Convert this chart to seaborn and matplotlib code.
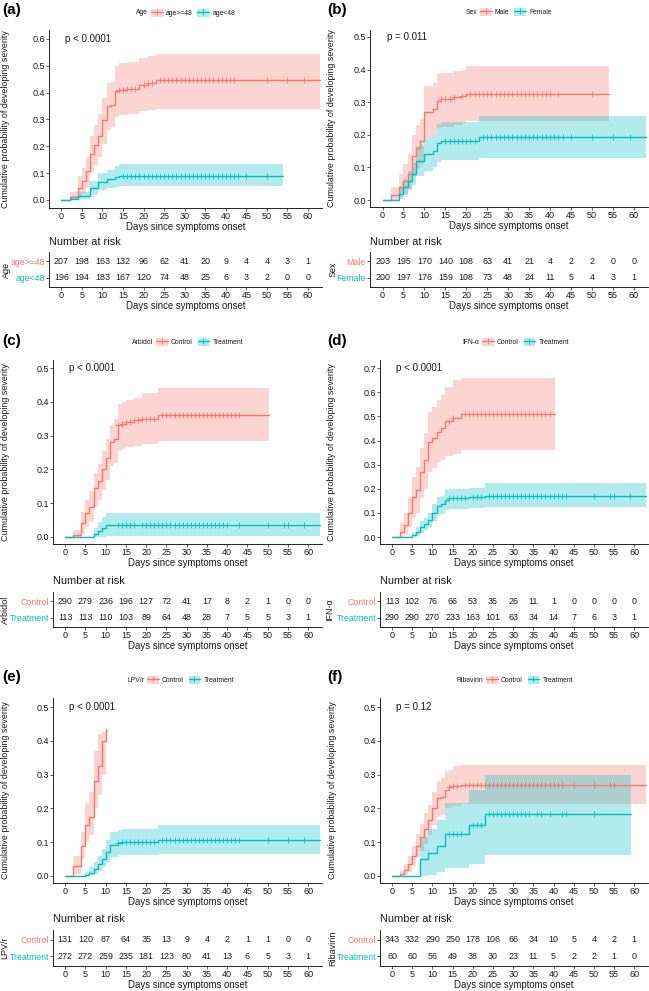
import numpy as np
import pandas as pd
import matplotlib
matplotlib.use("Agg")
import matplotlib.pyplot as plt
import seaborn as sns
from matplotlib.patches import Patch
from matplotlib.lines import Line2D

sns.set_style("ticks")
plt.rcParams['font.family'] = ['Liberation Sans', 'DejaVu Sans']

RED = '#F8766D'
TEAL = '#00BFC4'
TXT = '#1a1a1a'

day_ticks = [0, 5, 10, 15, 20, 25, 30, 35, 40, 45, 50, 55, 60]

# ---------------- (a) Age ----------------
a_title = 'Age'
a_labels = ['age>=48', 'age<48']
a_p = 'p < 0.0001'
a_yticks = [0.0, 0.1, 0.2, 0.3, 0.4, 0.5, 0.6]
a_t1 = [0, 2, 4, 5, 6, 7, 8, 9, 10, 11, 12, 13, 14, 16, 19, 21, 23]
a_v1 = [0, .01, .045, .07, .108, .17, .205, .24, .297, .35, .355, .405, .41, .415, .43, .435, .445]
a_lo1 = [0, 0, .01, .025, .05, .1, .13, .16, .21, .26, .27, .31, .315, .32, .33, .335, .34]
a_hi1 = [0, .03, .09, .12, .16, .24, .28, .32, .38, .435, .44, .5, .51, .515, .53, .535, .545]
a_end1 = 63
a_c1 = [14, 15, 16, 17, 18, 20, 21, 22, 24, 25, 26, 27, 28, 29, 30, 31, 32, 33, 34, 35, 36, 37,
        38, 39, 40, 41, 42, 50, 55, 59]
a_t2 = [0, 2, 4, 7, 9, 11, 13, 14]
a_v2 = [0, .005, .015, .044, .068, .077, .087, .09]
a_lo2 = [0, 0, .002, .02, .038, .044, .05, .052]
a_hi2 = [0, .015, .03, .07, .1, .11, .125, .133]
a_end2 = 54
a_c2 = [15, 16, 17, 18, 19, 20, 21, 22, 23, 24, 25, 26, 27, 28, 29, 30, 31, 32, 33, 34, 35, 36,
        37, 38, 39, 40, 41, 42, 43, 45, 50]
a_risk1 = [207, 198, 163, 132, 96, 62, 41, 20, 9, 4, 4, 3, 1]
a_risk2 = [196, 194, 183, 167, 120, 74, 48, 25, 6, 3, 2, 0, 0]

# ---------------- (b) Sex ----------------
b_title = 'Sex'
b_labels = ['Male', 'Female']
b_p = 'p = 0.011'
b_yticks = [0.0, 0.1, 0.2, 0.3, 0.4, 0.5]
b_t1 = [0, 2, 4, 5, 6, 7, 8, 9, 10, 12, 13, 14, 17, 19, 20]
b_v1 = [0, .015, .04, .06, .08, .135, .16, .18, .27, .28, .305, .31, .315, .32, .325]
b_lo1 = [0, 0, .01, .02, .035, .075, .095, .11, .19, .2, .22, .225, .23, .235, .243]
b_hi1 = [0, .04, .08, .11, .14, .2, .23, .25, .35, .36, .385, .39, .395, .4, .412]
b_end1 = 54
b_c1 = [14, 15, 16, 17, 19, 21, 22, 23, 24, 25, 26, 27, 28, 29, 30, 31, 32, 33, 34, 35, 36, 37,
        38, 39, 40, 42, 50]
b_t2 = [0, 4, 5, 6, 7, 8, 10, 12, 13, 14, 23]
b_v2 = [0, .02, .04, .06, .08, .12, .14, .15, .175, .18, .193]
b_lo2 = [0, .003, .015, .03, .045, .075, .09, .1, .118, .123, .128]
b_hi2 = [0, .04, .065, .09, .115, .165, .19, .2, .233, .238, .258]
b_end2 = 63
b_c2 = [15, 16, 17, 18, 19, 20, 21, 22, 24, 25, 26, 27, 28, 29, 30, 31, 32, 33, 34, 35, 36, 37,
        38, 39, 40, 41, 42, 43, 45, 50, 55, 59]
b_risk1 = [203, 195, 170, 140, 108, 63, 41, 21, 4, 2, 2, 0, 0]
b_risk2 = [200, 197, 176, 159, 108, 73, 48, 24, 11, 5, 4, 3, 1]

# ---------------- (c) Arbidol ----------------
c_title = 'Arbidol'
c_labels = ['Control', 'Treatment']
c_p = 'p < 0.0001'
c_yticks = [0.0, 0.1, 0.2, 0.3, 0.4, 0.5]
c_t1 = [0, 2, 4, 5, 6, 7, 8, 9, 10, 11, 12, 13, 14, 15, 17, 19, 23]
c_v1 = [0, .007, .04, .07, .09, .145, .165, .2, .235, .28, .29, .33, .335, .34, .345, .35, .362]
c_lo1 = [0, 0, .01, .03, .045, .09, .11, .14, .17, .21, .22, .255, .26, .265, .27, .275, .285]
c_hi1 = [0, .02, .075, .11, .135, .19, .215, .255, .29, .33, .35, .395, .4, .405, .41, .425, .44]
c_end1 = 50.4
c_c1 = [13, 14, 15, 16, 17, 18, 19, 20, 21, 22, 24, 25, 26, 27, 28, 29, 30, 31, 32, 33, 34, 35,
        36, 37, 38, 39, 40, 41, 42, 43]
c_t2 = [0, 7, 8, 9, 10]
c_v2 = [0, .009, .018, .027, .036]
c_lo2 = [0, 0, 0, .001, .002]
c_hi2 = [0, .027, .045, .06, .07]
c_end2 = 63
c_c2 = [13, 14, 15, 16, 17, 19, 20, 21, 22, 23, 24, 25, 26, 27, 28, 29, 30, 31, 32, 33, 34, 35,
        36, 37, 38, 39, 40, 43, 50, 54, 55, 59]
c_risk1 = [290, 279, 236, 196, 127, 72, 41, 17, 8, 2, 1, 0, 0]
c_risk2 = [113, 113, 110, 103, 89, 64, 48, 28, 7, 5, 5, 3, 1]

# ---------------- (d) IFN-α ----------------
d_title = 'IFN-α'
d_labels = ['Control', 'Treatment']
d_p = 'p < 0.0001'
d_yticks = [0.0, 0.1, 0.2, 0.3, 0.4, 0.5, 0.6, 0.7]
d_t1 = [0, 2, 3, 4, 5, 6, 7, 8, 9, 10, 11, 12, 13, 15, 17]
d_v1 = [0, .02, .05, .1, .165, .195, .27, .32, .395, .41, .435, .45, .48, .495, .51]
d_lo1 = [0, 0, .01, .04, .08, .1, .16, .2, .27, .285, .31, .32, .335, .345, .36]
d_hi1 = [0, .06, .1, .16, .25, .29, .37, .43, .52, .54, .57, .59, .62, .65, .66]
d_end1 = 40.3
d_c1 = [14, 15, 18, 19, 20, 21, 22, 23, 24, 25, 26, 27, 28, 29, 30, 31, 32, 33, 34, 35, 36, 37,
        38, 39]
d_t2 = [0, 5, 6, 7, 8, 9, 10, 11, 12, 13, 14, 19, 23]
d_v2 = [0, .008, .02, .04, .055, .07, .1, .13, .135, .155, .16, .165, .172]
d_lo2 = [0, 0, .005, .018, .028, .04, .065, .09, .095, .11, .115, .12, .125]
d_hi2 = [0, .02, .04, .065, .08, .1, .135, .165, .17, .195, .2, .205, .225]
d_end2 = 63
d_c2 = [14, 15, 16, 17, 18, 20, 21, 22, 24, 25, 26, 27, 28, 29, 30, 31, 32, 33, 34, 35, 36, 37,
        38, 39, 40, 41, 42, 43, 50, 54, 55, 59]
d_risk1 = [113, 102, 76, 66, 53, 35, 26, 11, 1, 0, 0, 0, 0]
d_risk2 = [290, 290, 270, 233, 163, 101, 63, 34, 14, 7, 6, 3, 1]

# ---------------- (e) LPV/r ----------------
e_title = 'LPV/r'
e_labels = ['Control', 'Treatment']
e_p = 'p < 0.0001'
e_yticks = [0.0, 0.1, 0.2, 0.3, 0.4, 0.5]
e_t1 = [0, 2, 4, 5, 6, 7, 8, 9, 10]
e_v1 = [0, .029, .09, .15, .175, .28, .325, .4, .435]
e_lo1 = [0, .005, .05, .1, .12, .2, .24, .3, .32]
e_hi1 = [0, .06, .13, .215, .25, .37, .42, .425, .43]
e_end1 = 10.1
e_c1 = []
e_t2 = [0, 5, 6, 7, 8, 9, 10, 11, 13, 14, 23]
e_v2 = [0, .004, .01, .02, .035, .05, .072, .092, .098, .1, .107]
e_lo2 = [0, 0, .002, .007, .015, .025, .04, .057, .061, .063, .065]
e_hi2 = [0, .012, .025, .04, .06, .08, .105, .13, .137, .14, .15]
e_end2 = 63
e_c2 = [13, 14, 15, 16, 17, 18, 19, 20, 21, 22, 24, 25, 26, 27, 28, 29, 30, 31, 32, 33, 34, 35,
        36, 37, 38, 39, 40, 41, 42, 43, 50, 55, 59]
e_risk1 = [131, 120, 87, 64, 35, 13, 9, 4, 2, 1, 1, 0, 0]
e_risk2 = [272, 272, 259, 235, 181, 123, 80, 41, 13, 6, 5, 3, 1]

# ---------------- (f) Ribavirin ----------------
f_title = 'Ribavirin'
f_labels = ['Control', 'Treatment']
f_p = 'p = 0.12'
f_yticks = [0.0, 0.1, 0.2, 0.3, 0.4, 0.5]
f_t1 = [0, 2, 3, 4, 5, 6, 7, 8, 9, 10, 11, 12, 13, 14, 15, 17]
f_v1 = [0, .005, .017, .035, .06, .09, .115, .14, .165, .2, .23, .235, .255, .262, .265, .27]
f_lo1 = [0, 0, .003, .012, .03, .055, .075, .095, .12, .15, .175, .18, .2, .205, .208, .212]
f_hi1 = [0, .015, .035, .06, .09, .125, .155, .185, .21, .25, .28, .29, .31, .315, .325, .33]
f_end1 = 63
f_c1 = [14, 15, 16, 18, 19, 20, 21, 22, 23, 24, 25, 26, 27, 28, 29, 30, 31, 32, 33, 34, 35, 36,
        37, 38, 39, 40, 41, 42, 45, 50, 54, 55]
f_t2 = [0, 7, 9, 11, 13, 19, 23]
f_v2 = [0, .05, .068, .088, .125, .152, .182]
f_lo2 = [0, 0, .003, .012, .022, .035, .061]
f_hi2 = [0, .115, .14, .165, .215, .255, .3]
f_end2 = 59.2
f_c2 = [14, 15, 16, 17, 20, 21, 22, 24, 25, 26, 27, 28, 29, 30, 31, 32, 33, 34, 36, 37, 39, 42,
        43, 50]
f_risk1 = [343, 332, 290, 250, 178, 106, 66, 34, 10, 5, 4, 2, 1]
f_risk2 = [60, 60, 56, 49, 38, 30, 23, 11, 5, 2, 2, 1, 0]

panels = [
    dict(tag='(a)', title=a_title, labels=a_labels, p=a_p, yticks=a_yticks,
         curves=[(a_t1, a_v1, a_lo1, a_hi1, a_end1, a_c1), (a_t2, a_v2, a_lo2, a_hi2, a_end2, a_c2)],
         risk=[a_risk1, a_risk2]),
    dict(tag='(b)', title=b_title, labels=b_labels, p=b_p, yticks=b_yticks,
         curves=[(b_t1, b_v1, b_lo1, b_hi1, b_end1, b_c1), (b_t2, b_v2, b_lo2, b_hi2, b_end2, b_c2)],
         risk=[b_risk1, b_risk2]),
    dict(tag='(c)', title=c_title, labels=c_labels, p=c_p, yticks=c_yticks,
         curves=[(c_t1, c_v1, c_lo1, c_hi1, c_end1, c_c1), (c_t2, c_v2, c_lo2, c_hi2, c_end2, c_c2)],
         risk=[c_risk1, c_risk2]),
    dict(tag='(d)', title=d_title, labels=d_labels, p=d_p, yticks=d_yticks,
         curves=[(d_t1, d_v1, d_lo1, d_hi1, d_end1, d_c1), (d_t2, d_v2, d_lo2, d_hi2, d_end2, d_c2)],
         risk=[d_risk1, d_risk2]),
    dict(tag='(e)', title=e_title, labels=e_labels, p=e_p, yticks=e_yticks,
         curves=[(e_t1, e_v1, e_lo1, e_hi1, e_end1, e_c1), (e_t2, e_v2, e_lo2, e_hi2, e_end2, e_c2)],
         risk=[e_risk1, e_risk2]),
    dict(tag='(f)', title=f_title, labels=f_labels, p=f_p, yticks=f_yticks,
         curves=[(f_t1, f_v1, f_lo1, f_hi1, f_end1, f_c1), (f_t2, f_v2, f_lo2, f_hi2, f_end2, f_c2)],
         risk=[f_risk1, f_risk2]),
]

# ---------------- layout (pixels) ----------------
W, H = 649, 991
PX = [0, 325, 0, 325, 0, 325]
KM_Y = [(30, 208), (30, 207), (360, 544), (360, 544), (698, 883), (698, 883)]
RISK_Y = [(252, 287), (252, 287), (592, 627), (592, 627), (930, 966), (930, 966)]
AX_X = [(49, 322), (370, 648), (53, 322), (380, 648), (53, 322), (380, 648)]
YLIM = [(-0.03, 0.633), (-0.021, 0.521), (-0.021, 0.524), (-0.029, 0.734),
        (-0.021, 0.527), (-0.021, 0.527)]
LEG = [(151, 13), (480, 12), (156, 342), (482, 342), (147, 680), (486, 680)]
NAR_Y = [242, 242, 581, 581, 919, 919]
TAG_Y = [9.7, 9.7, 340.5, 340.5, 677.5, 677.5]
YLAB_X = [5.5, 6, 6, 6, 6, 7.5]
RLAB_X = [6.5, 8.5, 5, 5, 4.5, 7.5]
XLIM = (-3.0, 63.4)

fig = plt.figure(figsize=(W / 100, H / 100), dpi=100)


def add_ax(x0, y0, x1, y1):
    return fig.add_axes([x0 / W, 1 - y1 / H, (x1 - x0) / W, (y1 - y0) / H])


def fx(x):
    return x / W


def fy(y):
    return 1 - y / H


def style_axis(ax):
    for s in ['top', 'right']:
        ax.spines[s].set_visible(False)
    for s in ['left', 'bottom']:
        ax.spines[s].set_linewidth(0.6)
        ax.spines[s].set_color('black')
    ax.tick_params(axis='both', labelsize=6.5, length=2, width=0.5, pad=1, colors=TXT)


for i, P in enumerate(panels):
    ox = PX[i]
    x0, x1 = AX_X[i]
    ky0, ky1 = KM_Y[i]
    ax = add_ax(x0, ky0, x1, ky1)
    cols = [RED, TEAL]
    for (t, v, lo, hi, end, cens), col in zip(P['curves'], cols):
        tt = list(t) + [end]
        vv = list(v) + [v[-1]]
        ll = list(lo) + [lo[-1]]
        hh = list(hi) + [hi[-1]]
        ax.fill_between(tt, ll, hh, step='post', color=col, alpha=0.3, lw=0)
        df = pd.DataFrame({'t': tt, 'v': vv})
        sns.lineplot(data=df, x='t', y='v', ax=ax, color=col, lw=1.0,
                     drawstyle='steps-post', estimator=None, sort=False, errorbar=None)
        if len(cens):
            idx = np.searchsorted(np.asarray(t), np.asarray(cens), side='right') - 1
            cy = np.asarray(v)[idx]
            sns.scatterplot(x=list(cens), y=list(cy), ax=ax, marker='+', s=16,
                            color=col, linewidth=0.6)
    ax.set_xlim(XLIM)
    ax.set_ylim(YLIM[i])
    ax.set_xticks(day_ticks)
    ax.set_yticks(P['yticks'])
    ax.set_yticklabels([f'{y:.1f}' for y in P['yticks']])
    ax.set_ylabel('')
    ax.set_xlabel('Days since symptoms onset', fontsize=6.9, labelpad=0.5, color=TXT)
    style_axis(ax)
    ax.text(1.0, P['yticks'][-1], P['p'], fontsize=7, ha='left', va='center', color=TXT)

    # y label of KM plot
    fig.text(fx(ox + YLAB_X[i]), fy((ky0 + ky1) / 2),
             'Cumulative probability of developing severity',
             rotation=90, ha='center', va='center', fontsize=6.4, color=TXT)
    # panel tag
    fig.text(fx(ox + 2), fy(TAG_Y[i]), P['tag'], fontsize=11, fontweight='bold',
             ha='left', va='center', color='black')

    # legend
    lx, ly = LEG[i]
    handles = [(Patch(facecolor=c, alpha=0.3, edgecolor='none'),
                Line2D([], [], color=c, lw=1.0, marker='+', markersize=4, mew=0.6))
               for c in cols]
    fig.legend(handles, P['labels'], loc='center left', bbox_to_anchor=(fx(lx), fy(ly)),
               ncol=2, frameon=False, fontsize=4.9, handlelength=1.7, handleheight=1.5,
               handletextpad=0.5, columnspacing=0.7, borderpad=0, borderaxespad=0,
               labelcolor=TXT)
    fig.text(fx(lx - 3), fy(ly), P['title'], fontsize=4.9, ha='right', va='center', color=TXT)

    # risk table
    ry0, ry1 = RISK_Y[i]
    rax = add_ax(x0, ry0, x1, ry1)
    rax.set_xlim(XLIM)
    rax.set_ylim(0.43, 2.57)
    r1, r2 = P['risk']
    for d, n1, n2 in zip(day_ticks, r1, r2):
        rax.text(d, 2, str(n1), ha='center', va='center', fontsize=6.4, color=TXT)
        rax.text(d, 1, str(n2), ha='center', va='center', fontsize=6.4, color=TXT)
    rax.set_xticks(day_ticks)
    rax.set_yticks([1, 2])
    rax.set_yticklabels([P['labels'][1], P['labels'][0]])
    style_axis(rax)
    rax.tick_params(axis='y', labelsize=6.3)
    for tl, c in zip(rax.get_yticklabels(), [TEAL, RED]):
        tl.set_color(c)
    rax.set_xlabel('Days since symptoms onset', fontsize=6.9, labelpad=0.5, color=TXT)
    fig.text(fx(x0), fy(NAR_Y[i]), 'Number at risk', fontsize=7.9, ha='left', va='center',
             color=TXT)
    fig.text(fx(ox + RLAB_X[i]), fy((ry0 + ry1) / 2), P['title'], rotation=90,
             ha='center', va='center', fontsize=6.5, color=TXT)

fig.savefig('out.png', dpi=100)
